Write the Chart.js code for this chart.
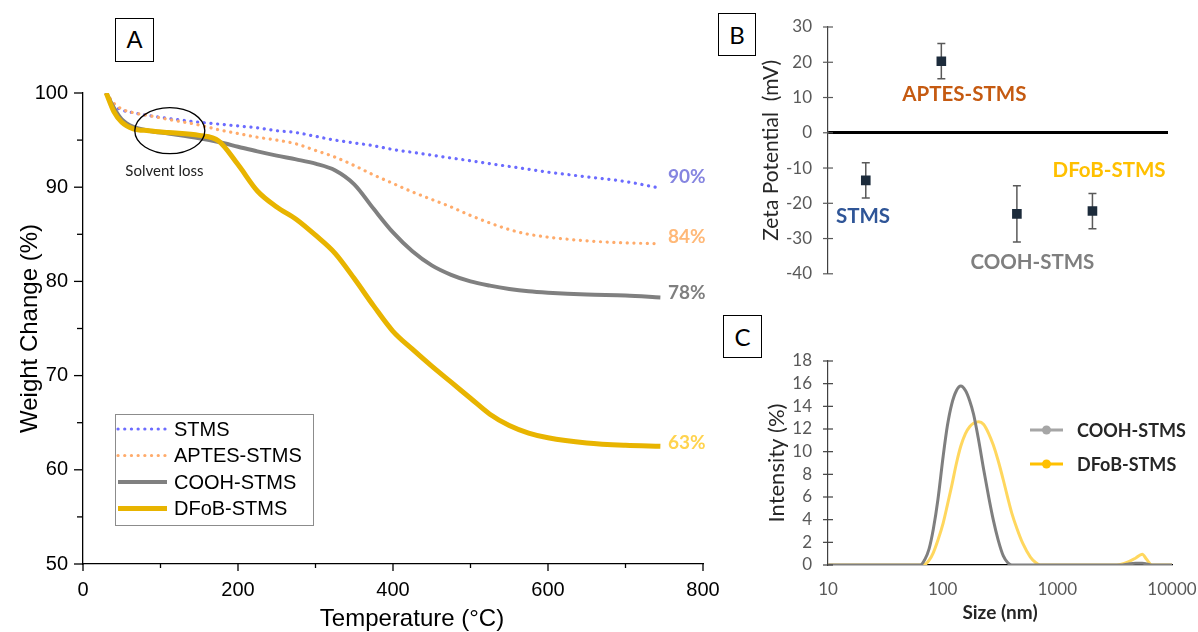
<!DOCTYPE html>
<html>
<head>
<meta charset="utf-8">
<script src="https://cdn.jsdelivr.net/npm/chart.js@4.4.0/dist/chart.umd.min.js"></script>
<style>
  html, body { margin: 0; padding: 0; background: #fff; }
  body { width: 1198px; height: 632px; position: relative; overflow: hidden; }
  canvas { position: absolute; }
  #chartA { left: 0; top: 0; width: 720px; height: 632px; }
  #chartB { left: 720px; top: 0; width: 478px; height: 300px; }
  #chartC { left: 720px; top: 300px; width: 478px; height: 332px; }
  .tag { position: absolute; border: 1.5px solid #000; background: #fff; box-sizing: border-box;
         display: flex; align-items: center; justify-content: center; color: #000; }
</style>
</head>
<body>
<canvas id="chartA" width="720" height="632"></canvas>
<canvas id="chartB" width="478" height="300"></canvas>
<canvas id="chartC" width="478" height="332"></canvas>
<div class="tag" style="left:115px;top:18px;width:39px;height:44px;font:24px 'Liberation Sans';">A</div>
<div class="tag" style="left:718px;top:13px;width:38px;height:43px;font:24px Lato;">B</div>
<div class="tag" style="left:723px;top:315px;width:39px;height:43px;font:24px Lato;">C</div>
<script>
    'use strict';

    // ---- A: TGA ----
    var tgaTemp = [30, 40, 50, 65, 85, 110, 150, 175, 200, 225, 250, 275, 300, 325, 350, 375,
                   400, 425, 450, 475, 500, 525, 550, 575, 600, 650, 700, 745];
    var tgaStms = [100, 98.7, 98.2, 97.9, 97.6, 97.3, 96.9, 96.7, 96.5, 96.3, 96.0, 95.8, 95.4, 95.0, 94.7, 94.4,
                   94.0, 93.7, 93.4, 93.1, 92.8, 92.5, 92.2, 91.9, 91.6, 91.1, 90.6, 89.9];
    var tgaAptes = [100, 98.9, 98.3, 97.9, 97.6, 97.2, 96.6, 96.1, 95.7, 95.3, 95.0, 94.6, 93.9, 93.2, 92.3, 91.3,
                    90.4, 89.5, 88.7, 87.9, 87.0, 86.2, 85.5, 85.0, 84.7, 84.3, 84.1, 84.0];
    var tgaCooh = [100, 98.4, 97.2, 96.4, 96.0, 95.7, 95.2, 94.8, 94.3, 93.8, 93.35, 92.95, 92.5, 91.8, 90.3, 87.7,
                   85.2, 83.2, 81.7, 80.7, 80.0, 79.55, 79.2, 78.95, 78.8, 78.6, 78.5, 78.3];
    var tgaDfob = [100, 98.0, 96.9, 96.2, 96.0, 95.8, 95.5, 94.9, 92.4, 89.6, 87.9, 86.6, 84.9, 83.0, 80.3, 77.4,
                   74.7, 72.8, 71.0, 69.3, 67.6, 65.9, 64.7, 63.9, 63.4, 62.85, 62.6, 62.5];
    var tgaSeries = ['STMS', 'APTES-STMS', 'COOH-STMS', 'DFoB-STMS'];
    var tgaEndLabels = ['90%', '84%', '78%', '63%'];

    // ---- B: zeta potential ----
    var zetaNames = ['STMS', 'APTES-STMS', 'COOH-STMS', 'DFoB-STMS'];
    var zetaX = [1, 2, 3, 4];
    var zetaMean = [-13.5, 20.3, -23.0, -22.2];
    var zetaErr = [5.0, 5.0, 8.0, 5.0];
    var zetaTicks = [-40, -30, -20, -10, 0, 10, 20, 30];

    // ---- C: DLS ----
    var dlsSize = [10, 20, 30, 40, 50, 58, 64, 70, 76, 83, 91, 101, 110, 120, 132, 144, 158, 172, 186, 206,
                   228, 252, 276, 305, 338, 370, 400, 445, 500, 582, 650, 710, 800, 1000, 2000, 3000, 3540,
                   4200, 4800, 5500, 6000, 6700, 8000, 10000];
    var dlsCooh = [0, 0, 0, 0, 0, 0, 0, 0.5, 1.4, 3.2, 5.8, 9.6, 12.3, 14.2, 15.4, 15.8, 15.4, 14.5, 13.3, 11.0,
                   8.4, 6.0, 4.0, 2.2, 0.8, 0.2, 0, 0, 0, 0, 0, 0, 0, 0, 0, 0, 0,
                   0.1, 0.15, 0.15, 0.1, 0, 0, 0];
    var dlsDfob = [0, 0, 0, 0, 0, 0, 0, 0.05, 0.4, 1.1, 2.2, 3.7, 5.3, 7.0, 9.0, 10.5, 11.6, 12.2, 12.5, 12.65,
                   12.4, 11.6, 10.6, 9.2, 7.5, 5.9, 4.6, 3.2, 1.9, 0.7, 0.2, 0, 0, 0, 0, 0, 0.05,
                   0.3, 0.6, 0.95, 0.5, 0, 0, 0];
    var dlsTicks = [10, 100, 1000, 10000];
    var dlsSeries = ['COOH-STMS', 'DFoB-STMS'];

    function pts(xs, ys) {
        return xs.map(function (x, i) { return {x: x, y: ys[i]}; });
    }

    // keep label overflow from shrinking the plot area
    function noSidePadding(s) {
        s.paddingLeft = 0;
        s.paddingRight = 0;
    }

    function drawAxisTicks(chart, id, o) {
        var scale = chart.scales[id], ctx = chart.ctx, area = chart.chartArea;
        ctx.save();
        ctx.strokeStyle = o.color;
        ctx.lineWidth = o.width;
        scale.ticks.forEach(function (t) {
            var len = (t.value % o.majorEvery === 0) ? o.major : o.minor;
            var p = scale.getPixelForValue(t.value);
            ctx.beginPath();
            if (scale.isHorizontal()) {
                ctx.moveTo(p, area.bottom - (o.cross ? len : 0));
                ctx.lineTo(p, area.bottom + len);
            } else {
                ctx.moveTo(area.left + (o.cross ? len : 0), p);
                ctx.lineTo(area.left - len, p);
            }
            ctx.stroke();
        });
        ctx.restore();
    }

    var styleA = {
        colors: ['#6b6bff', '#ffab6b', '#808080', '#e8b400'],
        labelColors: ['#8585e0', '#ffb877', '#7f7f7f', '#ffd34e'],
        labelShift: [-11, -7, -5, -3],
        widths: [3.2, 3.2, 4, 5],
        dotted: [true, true, false, false]
    };

    var tgaPlugin = {
        id: 'tgaDecor',
        afterDraw: function (chart) {
            var ctx = chart.ctx, x = chart.scales.x, y = chart.scales.y;
            drawAxisTicks(chart, 'x', {color: '#000', width: 1.3, majorEvery: 200, major: 7, minor: 4});
            drawAxisTicks(chart, 'y', {color: '#000', width: 1.3, majorEvery: 10, major: 9, minor: 6});
            ctx.save();
            // end labels
            ctx.font = 'bold 19px Lato';
            ctx.textBaseline = 'middle';
            ctx.textAlign = 'left';
            chart.data.datasets.forEach(function (ds, i) {
                var last = ds.data[ds.data.length - 1];
                ctx.fillStyle = styleA.labelColors[i];
                ctx.fillText(tgaEndLabels[i], 668, y.getPixelForValue(last.y) + styleA.labelShift[i]);
            });
            // solvent loss annotation
            ctx.strokeStyle = '#000';
            ctx.lineWidth = 1.3;
            ctx.beginPath();
            ctx.ellipse(x.getPixelForValue(112), y.getPixelForValue(96.0), 35, 23, 0, 0, Math.PI * 2);
            ctx.stroke();
            ctx.fillStyle = '#222';
            ctx.font = '15px Lato';
            ctx.textAlign = 'center';
            ctx.fillText('Solvent loss', x.getPixelForValue(105), y.getPixelForValue(91.7));
            // x title
            ctx.fillStyle = '#000';
            ctx.font = '24px "Liberation Sans"';
            ctx.fillText('Temperature (\u00B0C)', 412, 619);
            // legend
            ctx.fillStyle = '#fff';
            ctx.strokeStyle = '#8c8c8c';
            ctx.lineWidth = 1;
            ctx.fillRect(115, 414, 198, 111);
            ctx.strokeRect(115.5, 414.5, 198, 111);
            ctx.font = '20px "Liberation Sans"';
            ctx.textAlign = 'left';
            tgaSeries.forEach(function (name, i) {
                var ly = 429 + i * 26.5;
                ctx.save();
                ctx.strokeStyle = styleA.colors[i];
                ctx.lineWidth = styleA.widths[i];
                ctx.lineCap = styleA.dotted[i] ? 'round' : 'butt';
                ctx.setLineDash(styleA.dotted[i] ? [0.1, 6.6] : []);
                ctx.beginPath();
                ctx.moveTo(118, ly);
                ctx.lineTo(167, ly);
                ctx.stroke();
                ctx.restore();
                ctx.fillStyle = '#000';
                ctx.fillText(name, 174, ly + 1);
            });
            ctx.restore();
        }
    };

    var tgaData = [tgaStms, tgaAptes, tgaCooh, tgaDfob];
    new Chart(document.getElementById('chartA'), {
        type: 'line',
        data: {
            datasets: tgaData.map(function (vals, i) {
                return {
                    label: tgaSeries[i],
                    data: pts(tgaTemp, vals),
                    borderColor: styleA.colors[i],
                    borderWidth: styleA.widths[i],
                    borderDash: styleA.dotted[i] ? [0.1, 6.6] : [],
                    borderCapStyle: styleA.dotted[i] ? 'round' : 'butt',
                    pointRadius: 0,
                    cubicInterpolationMode: 'monotone',
                    order: 4 - i,
                    fill: false
                };
            })
        },
        options: {
            responsive: false,
            animation: false,
            layout: {padding: {left: 0, top: 93, right: 17, bottom: 0}},
            plugins: {legend: {display: false}, tooltip: {enabled: false}},
            scales: {
                x: {
                    type: 'linear', min: 0, max: 800,
                    afterFit: function (s) { s.height = 68; noSidePadding(s); },
                    ticks: {
                        stepSize: 100, autoSkip: false, maxRotation: 0, padding: 14, color: '#000',
                        font: {family: 'Liberation Sans', size: 20},
                        callback: function (v) { return v % 200 === 0 ? v : ''; }
                    },
                    grid: {display: false, drawTicks: false, tickLength: 0},
                    border: {color: '#000', width: 1.3}
                },
                y: {
                    min: 50, max: 100,
                    afterFit: function (s) { s.width = 83; },
                    ticks: {
                        stepSize: 5, autoSkip: false, padding: 15, color: '#000',
                        font: {family: 'Liberation Sans', size: 20},
                        callback: function (v) { return v % 10 === 0 ? v : ''; }
                    },
                    grid: {display: false, drawTicks: false, tickLength: 0},
                    border: {color: '#000', width: 1.3},
                    title: {
                        display: true, text: 'Weight Change (%)', color: '#000',
                        font: {family: 'Liberation Sans', size: 24, lineHeight: 1},
                        padding: {top: 18, bottom: 0}
                    }
                }
            }
        },
        plugins: [tgaPlugin]
    });

    // ---- B ----
    var zetaLabelStyle = [
        {x: 0.963, y: -23.6, color: '#2f5597'},
        {x: 2.305, y: 10.9, color: '#c55a11'},
        {x: 3.205, y: -36.8, color: '#7f7f7f'},
        {x: 4.22, y: -10.7, color: '#ffc000'}
    ];

    var zetaPlugin = {
        id: 'zetaDecor',
        beforeDatasetsDraw: function (chart) {
            var ctx = chart.ctx, x = chart.scales.x, y = chart.scales.y;
            ctx.save();
            ctx.strokeStyle = '#595959';
            ctx.lineWidth = 1.5;
            zetaX.forEach(function (xv, i) {
                var px = x.getPixelForValue(xv);
                var top = y.getPixelForValue(zetaMean[i] + zetaErr[i]);
                var bot = y.getPixelForValue(zetaMean[i] - zetaErr[i]);
                ctx.beginPath();
                ctx.moveTo(px, top); ctx.lineTo(px, bot);
                ctx.moveTo(px - 4, top); ctx.lineTo(px + 4, top);
                ctx.moveTo(px - 4, bot); ctx.lineTo(px + 4, bot);
                ctx.stroke();
            });
            ctx.restore();
        },
        afterDraw: function (chart) {
            var ctx = chart.ctx, x = chart.scales.x, y = chart.scales.y;
            drawAxisTicks(chart, 'y', {color: '#595959', width: 1.2, majorEvery: 10, major: 5, minor: 5, cross: true});
            ctx.save();
            ctx.font = 'bold 20.5px Lato';
            ctx.textAlign = 'center';
            ctx.textBaseline = 'middle';
            zetaNames.forEach(function (name, i) {
                var s = zetaLabelStyle[i];
                ctx.fillStyle = s.color;
                ctx.fillText(name, x.getPixelForValue(s.x), y.getPixelForValue(s.y));
            });
            ctx.restore();
        }
    };

    new Chart(document.getElementById('chartB'), {
        type: 'scatter',
        data: {
            datasets: [{
                data: pts(zetaX, zetaMean),
                pointStyle: 'rect',
                pointRadius: 6.8,
                backgroundColor: '#1c2b3b',
                borderColor: '#1c2b3b',
                borderWidth: 0
            }]
        },
        options: {
            responsive: false,
            animation: false,
            layout: {padding: {left: 0, top: 27, right: 30, bottom: 24}},
            plugins: {legend: {display: false}, tooltip: {enabled: false}},
            scales: {
                x: {type: 'linear', min: 0.5, max: 5, display: false},
                y: {
                    min: -40, max: 30,
                    afterFit: function (s) { s.width = 108; },
                    afterBuildTicks: function (s) { s.ticks = zetaTicks.map(function (v) { return {value: v}; }); },
                    ticks: {autoSkip: false, color: '#595959', font: {family: 'Lato', size: 17}, padding: 16},
                    grid: {
                        drawTicks: false, tickLength: 0,
                        color: function (c) { return c.tick && c.tick.value === 0 ? '#000' : 'rgba(0,0,0,0)'; },
                        lineWidth: function (c) { return c.tick && c.tick.value === 0 ? 3 : 0; }
                    },
                    border: {color: '#404040', width: 1.2},
                    title: {
                        display: true, text: 'Zeta Potential  (mV)', color: '#262626',
                        font: {family: 'Lato', size: 21, lineHeight: 1},
                        padding: {top: 41, bottom: 0}
                    }
                }
            }
        },
        plugins: [zetaPlugin]
    });

    // ---- C ----
    var styleC = {
        colors: ['#7f7f7f', '#ffd75e'],
        legendColors: ['#a6a6a6', '#ffc000']
    };

    var dlsPlugin = {
        id: 'dlsDecor',
        afterDraw: function (chart) {
            var ctx = chart.ctx;
            drawAxisTicks(chart, 'y', {color: '#404040', width: 1.2, majorEvery: 2, major: 5, minor: 5, cross: true});
            ctx.save();
            ctx.font = 'bold 18px Lato';
            ctx.textBaseline = 'middle';
            dlsSeries.forEach(function (name, i) {
                var ly = 130 + i * 34;
                ctx.strokeStyle = styleC.legendColors[i];
                ctx.fillStyle = styleC.legendColors[i];
                ctx.lineWidth = 3;
                ctx.beginPath();
                ctx.moveTo(310, ly); ctx.lineTo(343, ly);
                ctx.stroke();
                ctx.beginPath();
                ctx.arc(326.5, ly, 4.5, 0, Math.PI * 2);
                ctx.fill();
                ctx.fillStyle = '#262626';
                ctx.fillText(name, 357, ly + 1);
            });
            ctx.restore();
        }
    };

    new Chart(document.getElementById('chartC'), {
        type: 'line',
        data: {
            datasets: [dlsCooh, dlsDfob].map(function (vals, i) {
                return {
                    label: dlsSeries[i],
                    data: pts(dlsSize, vals),
                    borderColor: styleC.colors[i],
                    borderWidth: 3,
                    pointRadius: 0,
                    cubicInterpolationMode: 'monotone',
                    fill: false
                };
            })
        },
        options: {
            responsive: false,
            animation: false,
            layout: {padding: {left: 0, top: 61, right: 26, bottom: 0}},
            plugins: {legend: {display: false}, tooltip: {enabled: false}},
            scales: {
                x: {
                    type: 'logarithmic', min: 10, max: 10000,
                    afterBuildTicks: function (s) { s.ticks = dlsTicks.map(function (v) { return {value: v}; }); },
                    afterFit: function (s) { s.height = 67; noSidePadding(s); },
                    ticks: {
                        autoSkip: false, maxRotation: 0, padding: 14, color: '#595959',
                        font: {family: 'Lato', size: 17},
                        callback: function (v) { return String(v); }
                    },
                    grid: {display: false, drawTicks: false, tickLength: 0},
                    border: {color: '#000', width: 1.2},
                    title: {
                        display: true, text: 'Size (nm)', color: '#262626',
                        font: {family: 'Lato', size: 19, weight: 'bold', lineHeight: 1},
                        padding: {top: 0, bottom: 10}
                    }
                },
                y: {
                    min: 0, max: 18,
                    afterFit: function (s) { s.width = 108; },
                    ticks: {stepSize: 2, autoSkip: false, color: '#595959', font: {family: 'Lato', size: 17}, padding: 16},
                    grid: {display: false, drawTicks: false, tickLength: 0},
                    border: {color: '#404040', width: 1.2},
                    title: {
                        display: true, text: 'Intensity (%)', color: '#262626',
                        font: {family: 'Lato', size: 22, lineHeight: 1},
                        padding: {top: 46, bottom: 0}
                    }
                }
            }
        },
        plugins: [dlsPlugin]
    });
</script>
</body>
</html>
